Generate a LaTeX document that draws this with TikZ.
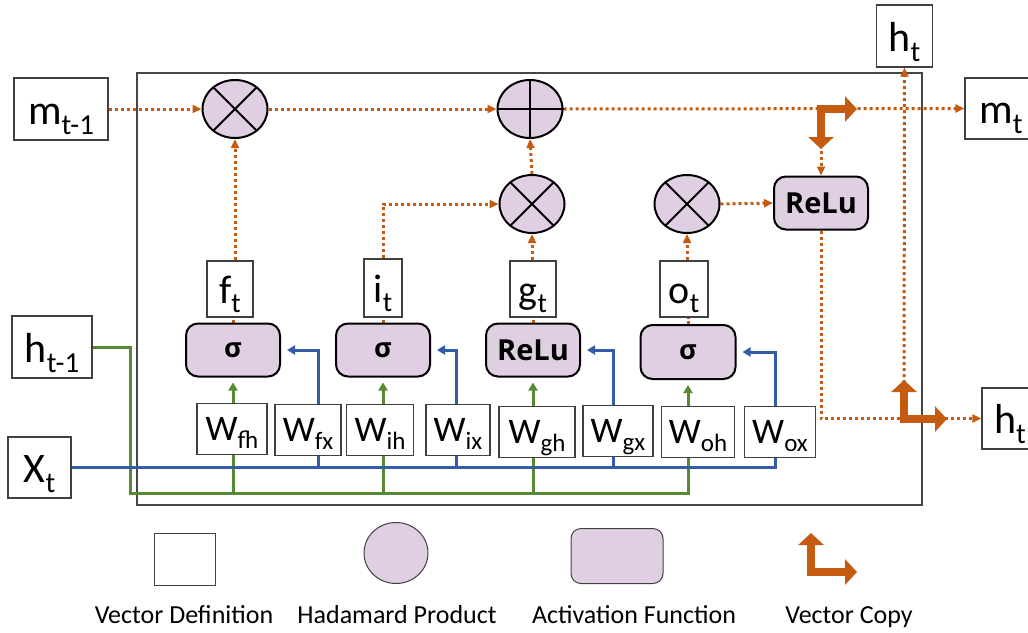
\documentclass[tikz,border=0pt]{standalone}
\usepackage{fontspec}
\setmainfont{Carlito}
\newfontfamily\actfont{Open Sans}
\usetikzlibrary{arrows.meta,shapes.geometric,backgrounds}

\definecolor{flowc}{RGB}{197,90,17}
\definecolor{lav}{RGB}{224,207,226}
\definecolor{bluec}{RGB}{52,92,166}
\definecolor{greenc}{RGB}{88,138,52}
\definecolor{boxc}{RGB}{64,64,64}
\definecolor{framec}{RGB}{70,70,70}

% letter with a lowered subscript: sizes, drop, letter, subscript
\newcommand\vlab[5]{{\fontsize{#1}{#1}\selectfont #4\raisebox{-#3}{\fontsize{#2}{#2}\selectfont #5}}}
\newcommand\biglab[2]{\vlab{42pt}{29pt}{10pt}{#1}{#2}}
\newcommand\gatelab[2]{\vlab{40pt}{28pt}{9pt}{#1}{#2}}
\newcommand\wlab[2]{\vlab{36pt}{25pt}{8pt}{#1}{#2}}

\tikzset{
  vecbox/.style={draw=boxc, line width=1.3pt, fill=white, inner sep=0pt},
  bigvec/.style={vecbox, text height=30pt, text depth=0pt},
  gatevec/.style={vecbox, text height=28pt, text depth=0pt},
  wvec/.style={vecbox, text height=23pt, text depth=0pt, minimum height=51pt},
  hada/.style={ellipse, draw=black, line width=2pt, fill=lav,
    minimum width=65pt, minimum height=58pt, inner sep=0pt},
  actbox/.style={draw=black, line width=2pt, fill=lav, rounded corners=12pt,
    minimum width=94pt, minimum height=53pt, inner sep=0pt},
  sigfont/.style={font=\actfont\bfseries\fontsize{27pt}{27pt}\selectfont},
  relufont/.style={font=\actfont\bfseries\fontsize{29pt}{29pt}\selectfont},
  cellframe/.style={draw=framec, line width=1.3pt, minimum width=785pt,
    minimum height=432pt, inner sep=0pt},
  flow/.style={draw=flowc, line width=3pt, dash pattern=on 3pt off 3pt},
  flowarrow/.style={flow, arrows={-Triangle[length=9pt,width=8pt]}},
  gline/.style={draw=greenc, line width=3pt},
  garrow/.style={gline, arrows={-Triangle[length=8pt,width=9pt]}, shorten >=5pt},
  bline/.style={draw=bluec, line width=3pt},
  barrow/.style={bline, arrows={-Triangle[length=8pt,width=9pt]}, shorten >=6pt},
  vcopy/.style={draw=flowc, line width=8pt, line join=miter,
    arrows={Triangle[length=12pt,width=25pt]-Triangle[length=12pt,width=25pt]}},
  legtext/.style={anchor=base, font=\fontsize{26pt}{26pt}\selectfont},
}

\begin{document}
\begin{tikzpicture}[x=1pt,y=-1pt]
\useasboundingbox (0,0) rectangle (1028,632);

% outer vectors
\node[bigvec, minimum width=94pt, minimum height=62pt] (mprev) at (61,109) {\biglab{m}{t-1}};
\node[bigvec, minimum width=80pt, minimum height=62pt] (hprev) at (52,347) {\biglab{h}{t-1}};
\node[bigvec, minimum width=63pt, minimum height=61pt] (xt) at (39.5,467.5) {\biglab{X}{t}};
\node[bigvec, minimum width=56pt, minimum height=62pt] (htop) at (904.5,36) {\biglab{h}{t}};
\node[bigvec, minimum width=72pt, minimum height=61pt] (mt) at (1001,108.5) {\biglab{m}{t}};
\node[bigvec, minimum width=56pt, minimum height=61pt] (hright) at (1010,418.5) {\biglab{h}{t}};

% Hadamard products and the sum
\node[hada] (mulf) at (235,109) {};
\node[hada] (plus) at (530,109) {};
\node[hada] (mulg) at (532,204) {};
\node[hada] (mulo) at (687,204) {};
\draw[line width=2pt] (mulf.45) -- (mulf.225) (mulf.135) -- (mulf.315);
\draw[line width=2pt] (plus.north) -- (plus.south) (plus.west) -- (plus.east);
\draw[line width=2pt] (mulg.45) -- (mulg.225) (mulg.135) -- (mulg.315);
\draw[line width=2pt] (mulo.45) -- (mulo.225) (mulo.135) -- (mulo.315);

% activations
\node[actbox, relufont] (relut) at (821,203) {ReLu};
\node[actbox, sigfont] (sigf) at (233,350) {σ};
\node[actbox, sigfont] (sigi) at (383,350) {σ};
\node[actbox, relufont] (relug) at (533,350) {ReLu};
\node[actbox, sigfont, minimum width=95pt, minimum height=54pt] (sigo) at (688,352) {σ};

% gate vectors
\node[gatevec, minimum width=46pt, minimum height=56pt] (ft) at (230,289) {\gatelab{f}{t}};
\node[gatevec, minimum width=38pt, minimum height=58pt] (it) at (383,288) {\gatelab{i}{t}};
\node[gatevec, minimum width=46pt, minimum height=56pt] (gt) at (533,289) {\gatelab{g}{t}};
\node[gatevec, minimum width=48pt, minimum height=56pt] (ot) at (684,289) {\gatelab{o}{t}};

% weight matrices
\node[wvec, minimum width=70pt] (Wfh) at (232,429) {\wlab{W}{fh}};
\node[wvec, minimum width=66pt] (Wfx) at (308,430) {\wlab{W}{fx}};
\node[wvec, minimum width=67pt] (Wih) at (380,430) {\wlab{W}{ih}};
\node[wvec, minimum width=64pt] (Wix) at (458,430) {\wlab{W}{ix}};
\node[wvec, minimum width=76pt] (Wgh) at (537,432) {\wlab{W}{gh}};
\node[wvec, minimum width=70pt] (Wgx) at (618,431) {\wlab{W}{gx}};
\node[wvec, minimum width=73pt] (Woh) at (698,432) {\wlab{W}{oh}};
\node[wvec, minimum width=71pt] (Wox) at (780,432) {\wlab{W}{ox}};

% bend points
\coordinate (gc) at (130,493);
\coordinate (vct) at (821,109);
\coordinate (vcb) at (904,419);

\begin{pgfonlayer}{background}
  \node[cellframe] (cell) at (529.5,289) {};
  % cell state
  \draw[flowarrow] (mprev.east) -- (mulf.west);
  \draw[flowarrow] (mulf.east) -- (plus.west);
  \draw[flowarrow] (plus.east) -- (mt.west);
  % gates into the products
  \draw[flowarrow] (mulf.south |- ft.north) -- (mulf.south);
  \draw[flowarrow] (it.north) |- (mulg.west);
  \draw[flowarrow] (mulg.south |- gt.north) -- (mulg.south);
  \draw[flowarrow] (mulg.north) -- (plus.south);
  \draw[flowarrow] (mulo.south |- ot.north) -- (mulo.south);
  \draw[flowarrow] (mulo.east) -- (relut.west);
  % activations to gate vectors
  \draw[flow] (sigf.north) -- (sigf.north |- ft.south);
  \draw[flow] (sigi.north) -- (sigi.north |- it.south);
  \draw[flow] (relug.north) -- (relug.north |- gt.south);
  \draw[flow] (sigo.north) -- (sigo.north |- ot.south);
  % outputs
  \draw[flowarrow] (vct) -- (relut.north);
  \draw[flowarrow] (relut.south) |- (hright.west);
  \draw[flowarrow] (vcb) -- (htop.south);
  % previous hidden state
  \draw[garrow] (hprev.east) -| (gc) -| (sigo.south);
  \draw[garrow] (sigf.south |- gc) -- (sigf.south);
  \draw[garrow] (sigi.south |- gc) -- (sigi.south);
  \draw[garrow] (relug.south |- gc) -- (relug.south);
  % input
  \draw[barrow] (xt.east) -| ([xshift=-5pt]Wox.south) -- ([xshift=-5pt]Wox.north) |- (sigo.east);
  \draw[barrow] ([xshift=10pt]Wfx.south |- xt.east) -- ([xshift=10pt]Wfx.north) |- (sigf.east);
  \draw[barrow] ([xshift=-2pt]Wix.south |- xt.east) -- ([xshift=-2pt]Wix.north) |- (sigi.east);
  \draw[barrow] ([xshift=-5pt]Wgx.south |- xt.east) -- ([xshift=-5pt]Wgx.north) |- (relug.east);
\end{pgfonlayer}

% vector copies
\draw[vcopy] (821,149) |- (857,109);
\draw[vcopy] (904,380) |- (947,419);

% legend
\node[vecbox, line width=1pt, minimum width=61pt, minimum height=52pt] (legvec) at (185,559) {};
\node[ellipse, draw=boxc, line width=1pt, fill=lav, minimum width=64pt, minimum height=61pt, inner sep=0pt] (leghad) at (396,553) {};
\node[draw=boxc, line width=1pt, fill=lav, rounded corners=10pt, minimum width=92pt, minimum height=55pt, inner sep=0pt] (legact) at (617,556) {};
\draw[vcopy] (811,533) |- (857,572);
\node[legtext] (lt1) at (184,623) {Vector Definition};
\node[legtext] (lt2) at (397,623) {Hadamard Product};
\node[legtext] (lt3) at (634,623) {Activation Function};
\node[legtext] (lt4) at (849,623) {Vector Copy};
\end{tikzpicture}
\end{document}
